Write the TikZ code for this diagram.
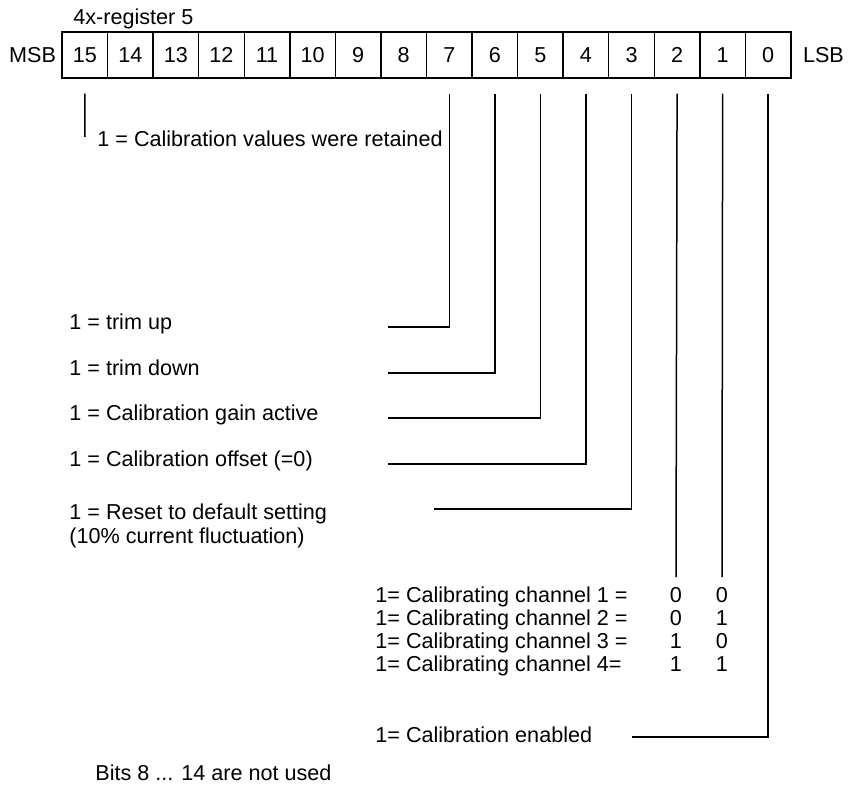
\documentclass[tikz,border=0pt]{standalone}
\usepackage{fontspec}
\setmainfont{Liberation Sans}
\usetikzlibrary{positioning}

\begin{document}
\begin{tikzpicture}[x=0.5pt, y=-0.5pt, every node/.style={font=\fontsize{10.8}{12}\selectfont, inner sep=0pt},
    cell/.style={draw, line width=0.7pt, minimum width=22.78pt, minimum height=23pt},
    wire/.style={line width=0.75pt}]
    \useasboundingbox (0,0) rectangle (848,789);
    \foreach \b in {0,...,15}
      \node[cell] (b\b) at ({84.8+(15-\b)*45.56}, 55) {\b};
    \node[left=2.5pt of b15] (msb) {MSB};
    \node[right=5.5pt of b0] (lsb) {LSB};
    \node[anchor=base west] (reg) at (73,24) {4x-register 5};

    \node[anchor=base west] (t15) at (97,146) {1 = Calibration values were retained};
    \node[anchor=base west] (t7) at (69,329) {1 = trim up};
    \node[anchor=base west] (t6) at (69,375) {1 = trim down};
    \node[anchor=base west] (t5) at (69,420) {1 = Calibration gain active};
    \node[anchor=base west] (t4) at (69,466) {1 = Calibration offset (=0)};
    \node[anchor=north west, align=left] (t3) at (69,503) {1 = Reset to default setting\\(10\% current fluctuation)};
    \node[anchor=base west] (ch1) at (375,602) {1= Calibrating channel 1 =};
    \node[anchor=base west] (ch2) at (375,625) {1= Calibrating channel 2 =};
    \node[anchor=base west] (ch3) at (375,648) {1= Calibrating channel 3 =};
    \node[anchor=base west] (ch4) at (375,671) {1= Calibrating channel 4=};
    \foreach \r/\y/\u/\v in {1/602/0/0, 2/625/0/1, 3/648/1/0, 4/671/1/1} {
      \node[anchor=base] (v\r a) at (676,\y) {\u};
      \node[anchor=base] (v\r b) at (722,\y) {\v};
    }
    \node[anchor=base west] (t0) at (375,742) {1= Calibration enabled};
    \node[anchor=base west] (unused) at (95,780) {Bits 8 ... 14 are not used};

    \coordinate (e15) at (85,137);
    \foreach \b/\y in {7/327, 6/373, 5/418, 4/464}
      \coordinate (e\b) at (388,\y);
    \coordinate (e3) at (434,509);
    \coordinate (e2) at (676,577);
    \coordinate (e1) at (722,577);
    \coordinate (e0) at (632,737);

    \draw[wire] ([yshift=-7.5pt]b15.south) -- (e15);
    \foreach \b in {7,6,5,4,3,0}
      \draw[wire] ([yshift=-7.5pt]b\b.south) |- (e\b);
    \draw[wire] ([yshift=-7.5pt]b2.south) -- (e2);
    \draw[wire] ([yshift=-7.5pt]b1.south) -- (e1);
\end{tikzpicture}
\end{document}
